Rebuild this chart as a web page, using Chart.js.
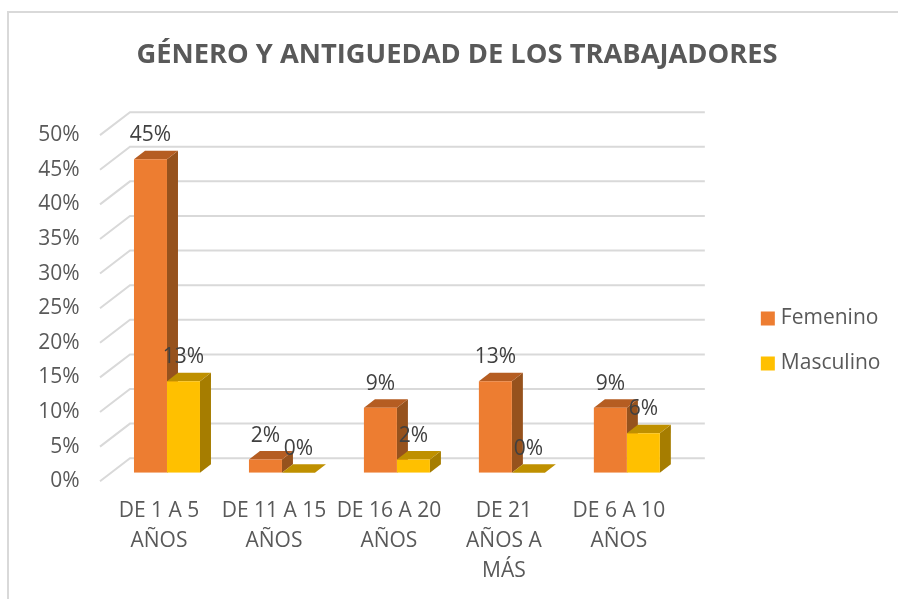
<!DOCTYPE html>
<html>
<head>
<meta charset="utf-8">
<script src="https://cdn.jsdelivr.net/npm/chart.js@4"></script>
<style>
  html, body { margin: 0; padding: 0; background: #fff; overflow: hidden; }
  #frame { position: absolute; left: 7px; top: 11px; width: 900px; height: 600px; border: 2px solid #d9d9d9; box-sizing: border-box; }
  canvas { position: absolute; left: 0; top: 0; }
</style>
</head>
<body>
<div id="frame"></div>
<canvas id="chart" width="898" height="599"></canvas>
<script>
const categories = [['DE 1 A 5', 'AÑOS'], ['DE 11 A 15', 'AÑOS'], ['DE 16 A 20', 'AÑOS'], ['DE 21', 'AÑOS A', 'MÁS'], ['DE 6 A 10', 'AÑOS']];
const femenino = [45.3, 1.9, 9.4, 13.2, 9.4];
const masculino = [13.2, 0, 1.9, 0, 5.7];
const yTicks = [0, 5, 10, 15, 20, 25, 30, 35, 40, 45, 50];

const FONT = '"Open Sans", sans-serif';
const TEXT = '#595959';
const shades = [
  { top: '#b55d22', side: '#96521d' },
  { top: '#bf9000', side: '#a67d00' },
];

// 3D look: walls behind the bars, side and top faces on each bar
const wallPlugin = {
  id: 'wall',
  beforeDatasetsDraw(chart) {
    const { ctx, chartArea, scales } = chart;
    ctx.save();
    ctx.strokeStyle = '#d9d9d9';
    ctx.lineWidth = 2;
    yTicks.forEach((t) => {
      const y = scales.y.getPixelForValue(t);
      ctx.beginPath();
      ctx.moveTo(chartArea.left - 9.5, y + 8.5);
      ctx.lineTo(chartArea.left + 20.5, y - 14.5);
      ctx.lineTo(chartArea.right + 20.5, y - 14.5);
      ctx.stroke();
    });
    chart.data.datasets.forEach((ds, i) => {
      chart.getDatasetMeta(i).data.forEach((bar) => {
        const l = bar.x - bar.width / 2, r = bar.x + bar.width / 2;
        const dx = 11, dy = 8.5;
        ctx.fillStyle = shades[i].side;
        ctx.beginPath();
        ctx.moveTo(r, bar.y);
        ctx.lineTo(r + dx, bar.y - dy);
        ctx.lineTo(r + dx, bar.base - dy);
        ctx.lineTo(r, bar.base);
        ctx.closePath();
        ctx.fill();
        ctx.fillStyle = shades[i].top;
        ctx.beginPath();
        ctx.moveTo(l, bar.y);
        ctx.lineTo(l + dx, bar.y - dy);
        ctx.lineTo(r + dx, bar.y - dy);
        ctx.lineTo(r, bar.y);
        ctx.closePath();
        ctx.fill();
      });
    });
    ctx.restore();
  },
  afterDatasetsDraw(chart) {
    const { ctx } = chart;
    ctx.save();
    ctx.font = '21px ' + FONT;
    ctx.fillStyle = '#404040';
    ctx.textAlign = 'center';
    ctx.textBaseline = 'middle';
    chart.data.datasets.forEach((ds, i) => {
      chart.getDatasetMeta(i).data.forEach((bar, j) => {
        ctx.fillText(Math.round(ds.data[j]) + '%', bar.x, bar.y - 24);
      });
    });
    ctx.restore();
  },
};

new Chart(document.getElementById('chart'), {
  type: 'bar',
  data: {
    labels: categories,
    datasets: [
      { label: 'Femenino', data: femenino, backgroundColor: '#ed7d31', borderWidth: 0 },
      { label: 'Masculino', data: masculino, backgroundColor: '#ffc000', borderWidth: 0 },
    ],
  },
  options: {
    responsive: false,
    animation: false,
    datasets: { bar: { categoryPercentage: 0.574, barPercentage: 1 } },
    layout: { padding: { left: 30.5, right: 14.5, top: 0, bottom: -83 } },
    plugins: {
      title: {
        display: true,
        text: 'GÉNERO Y ANTIGUEDAD DE LOS TRABAJADORES',
        color: TEXT,
        font: { family: FONT, size: 27.3, weight: 'bold', lineHeight: 1.2 },
        padding: { top: 39, bottom: 54.9 },
      },
      legend: {
        position: 'right',
        labels: {
          color: TEXT,
          font: { family: FONT, size: 21 },
          boxWidth: 5,
          boxHeight: 5,
          padding: 24,
          // thick same-colour stroke so the square is 14px but sits closer to its text
          generateLabels(chart) {
            return Chart.defaults.plugins.legend.labels.generateLabels(chart).map((item) => ({
              ...item,
              strokeStyle: item.fillStyle,
              lineWidth: 9,
            }));
          },
        },
      },
      tooltip: { enabled: false },
    },
    scales: {
      x: {
        grid: { display: false, drawTicks: false },
        border: { display: false },
        afterFit(scale) { scale.height = 209.3; },
        ticks: {
          color: TEXT,
          font: { family: FONT, size: 21, lineHeight: 1.43 },
          maxRotation: 0,
          autoSkip: false,
          labelOffset: -8,
          padding: 23,
        },
      },
      y: {
        min: 0,
        max: 50,
        grid: { display: false, drawTicks: false },
        border: { display: false },
        afterFit(scale) { scale.width = 79; },
        ticks: {
          stepSize: 5,
          color: TEXT,
          font: { family: FONT, size: 21 },
          padding: 30,
          labelOffset: 8.5,
          callback: (v) => v + '%',
        },
      },
      // empty axis, only keeps the gap between the plot and the legend
      gap: {
        position: 'right',
        min: 0,
        max: 1,
        grid: { display: false, drawTicks: false },
        border: { display: false },
        ticks: { display: false },
        afterFit(scale) { scale.width = 57; },
      },
    },
  },
  plugins: [wallPlugin],
});
</script>
</body>
</html>
